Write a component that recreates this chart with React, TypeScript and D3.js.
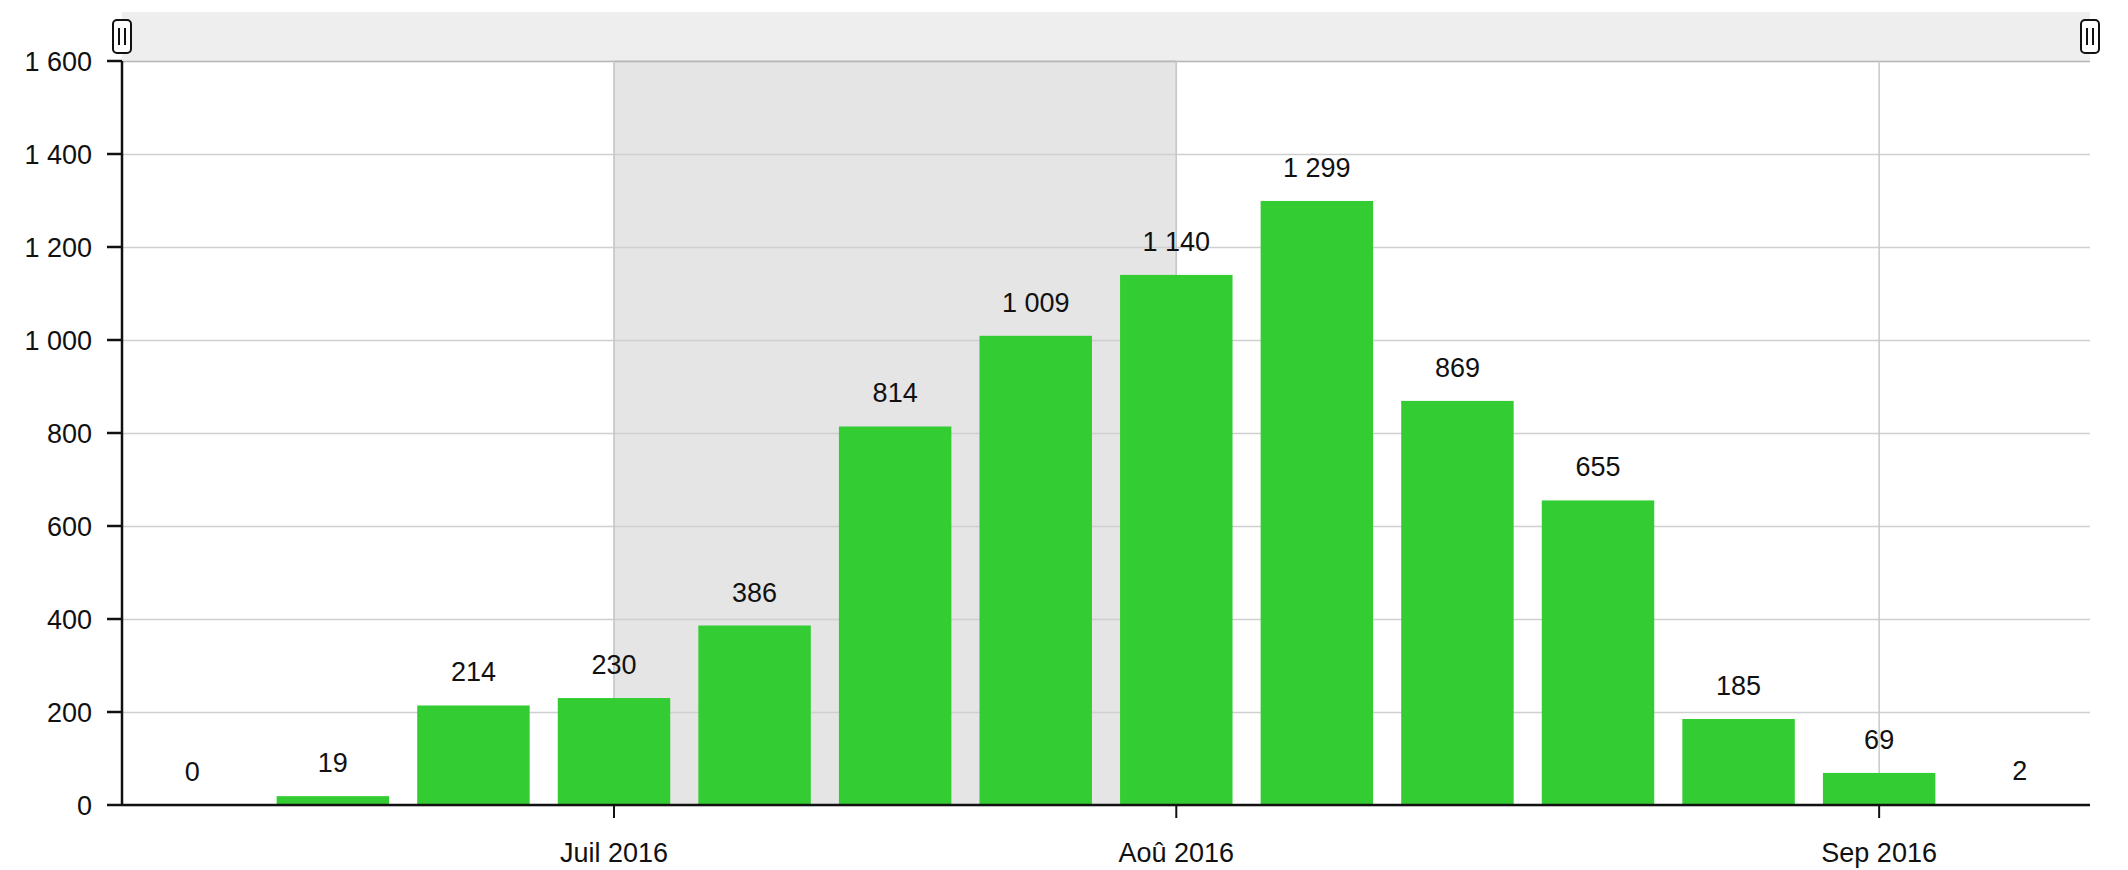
import React, { useRef, useEffect } from 'react';
import * as d3 from 'd3';

// weekly buckets (week start, Monday)
const weeks = [
  '2016-06-13', '2016-06-20', '2016-06-27', '2016-07-04', '2016-07-11',
  '2016-07-18', '2016-07-25', '2016-08-01', '2016-08-08', '2016-08-15',
  '2016-08-22', '2016-08-29', '2016-09-05', '2016-09-12'
];
const counts = [0, 19, 214, 230, 386, 814, 1009, 1140, 1299, 869, 655, 185, 69, 2];

// month labels sit on the first week of each month
const monthWeeks = ['2016-07-04', '2016-08-01', '2016-09-05'];
const monthLabels = ['Juil 2016', 'Aoû 2016', 'Sep 2016'];

// highlighted period
const rangeFrom = '2016-07-04';
const rangeTo = '2016-08-01';

const yTicks = [0, 200, 400, 600, 800, 1000, 1200, 1400, 1600];

const W = 2128;
const H = 870;

const fr = d3.formatLocale({ decimal: ',', thousands: ' ', grouping: [3], currency: ['', ' €'] });
const fmt = fr.format(',d');

const App: React.FC = () => {
  const ref = useRef<SVGSVGElement>(null);

  useEffect(() => {
    if (!ref.current) return;
    const svg = d3.select(ref.current);
    svg.selectAll('*').remove();

    const margin = { top: 61, right: 38, bottom: 65, left: 122 };
    const x0 = margin.left;
    const x1 = W - margin.right;
    const y0 = H - margin.bottom;
    const font = '"Liberation Sans", Arial, sans-serif';

    const x = d3.scaleBand<string>()
      .domain(weeks)
      .range([x0, x1])
      .paddingInner(0.2)
      .paddingOuter(0.1);
    const cx = (w: string) => (x(w) || 0) + x.bandwidth() / 2;

    const y = d3.scaleLinear().domain([0, 1600]).range([y0, margin.top]);

    // scrollbar
    svg.append('rect')
      .attr('x', x0).attr('y', 12)
      .attr('width', x1 - x0).attr('height', margin.top - 12)
      .attr('fill', '#eeeeee');

    // highlighted range
    svg.append('rect')
      .attr('x', cx(rangeFrom)).attr('y', margin.top)
      .attr('width', cx(rangeTo) - cx(rangeFrom))
      .attr('height', y0 - margin.top)
      .attr('fill', '#e5e5e5')
      .attr('stroke', '#c8c8c8')
      .attr('stroke-width', 1);

    // horizontal grid
    svg.append('g').selectAll('line')
      .data(yTicks)
      .enter()
      .append('line')
      .attr('x1', x0).attr('x2', x1)
      .attr('y1', d => Math.round(y(d)) + 0.5)
      .attr('y2', d => Math.round(y(d)) + 0.5)
      .attr('stroke', d => (d === 1600 ? '#b5b5b5' : '#cfcfcf'))
      .attr('stroke-width', 1.5);

    // vertical grid at month starts
    svg.append('g').selectAll('line')
      .data(monthWeeks)
      .enter()
      .append('line')
      .attr('x1', d => cx(d)).attr('x2', d => cx(d))
      .attr('y1', margin.top).attr('y2', y0)
      .attr('stroke', '#c8c8c8')
      .attr('stroke-width', 1.5);

    // bars
    svg.append('g').selectAll('rect')
      .data(counts)
      .enter()
      .append('rect')
      .attr('x', (d, i) => x(weeks[i]) || 0)
      .attr('y', d => y(d))
      .attr('width', x.bandwidth())
      .attr('height', d => y0 - y(d))
      .attr('fill', '#33cc33');

    // value labels
    svg.append('g').selectAll('text')
      .data(counts)
      .enter()
      .append('text')
      .attr('x', (d, i) => cx(weeks[i]))
      .attr('y', d => y(d) - 24)
      .attr('text-anchor', 'middle')
      .attr('font-family', font)
      .attr('font-size', 27)
      .attr('fill', '#111')
      .text(d => fmt(d));

    // y axis
    svg.append('line')
      .attr('x1', x0).attr('x2', x0)
      .attr('y1', margin.top).attr('y2', y0 + 1)
      .attr('stroke', '#111').attr('stroke-width', 2.5);
    const yg = svg.append('g');
    yg.selectAll('line')
      .data(yTicks)
      .enter()
      .append('line')
      .attr('x1', x0 - 15).attr('x2', x0)
      .attr('y1', d => y(d)).attr('y2', d => y(d))
      .attr('stroke', '#111').attr('stroke-width', 2.5);
    yg.selectAll('text')
      .data(yTicks)
      .enter()
      .append('text')
      .attr('x', x0 - 30)
      .attr('y', d => y(d))
      .attr('dy', '0.36em')
      .attr('text-anchor', 'end')
      .attr('font-family', font)
      .attr('font-size', 27)
      .attr('fill', '#111')
      .text(d => fmt(d));

    // x axis
    svg.append('line')
      .attr('x1', x0).attr('x2', x1)
      .attr('y1', y0).attr('y2', y0)
      .attr('stroke', '#111').attr('stroke-width', 2.5);
    const xg = svg.append('g');
    xg.selectAll('line')
      .data(monthWeeks)
      .enter()
      .append('line')
      .attr('x1', d => cx(d)).attr('x2', d => cx(d))
      .attr('y1', y0).attr('y2', y0 + 13)
      .attr('stroke', '#111').attr('stroke-width', 2);
    xg.selectAll('text')
      .data(monthWeeks)
      .enter()
      .append('text')
      .attr('x', d => cx(d))
      .attr('y', y0 + 57)
      .attr('text-anchor', 'middle')
      .attr('font-family', font)
      .attr('font-size', 27)
      .attr('fill', '#111')
      .text((d, i) => monthLabels[i]);

    // scrollbar grips
    const grips = svg.append('g');
    [x0, x1].forEach(gx => {
      const g = grips.append('g').attr('transform', `translate(${gx},36)`);
      g.append('rect')
        .attr('x', -9).attr('y', -16)
        .attr('width', 18).attr('height', 33)
        .attr('rx', 4)
        .attr('fill', '#fff')
        .attr('stroke', '#111')
        .attr('stroke-width', 2);
      [-3, 3].forEach(dx => {
        g.append('line')
          .attr('x1', dx).attr('x2', dx)
          .attr('y1', -8).attr('y2', 9)
          .attr('stroke', '#111')
          .attr('stroke-width', 2);
      });
    });
  }, []);

  return (
    <svg
      ref={ref}
      width={W}
      height={H}
      style={{ position: 'absolute', left: 0, top: 0, background: '#fff' }}
    />
  );
};

export default App;
